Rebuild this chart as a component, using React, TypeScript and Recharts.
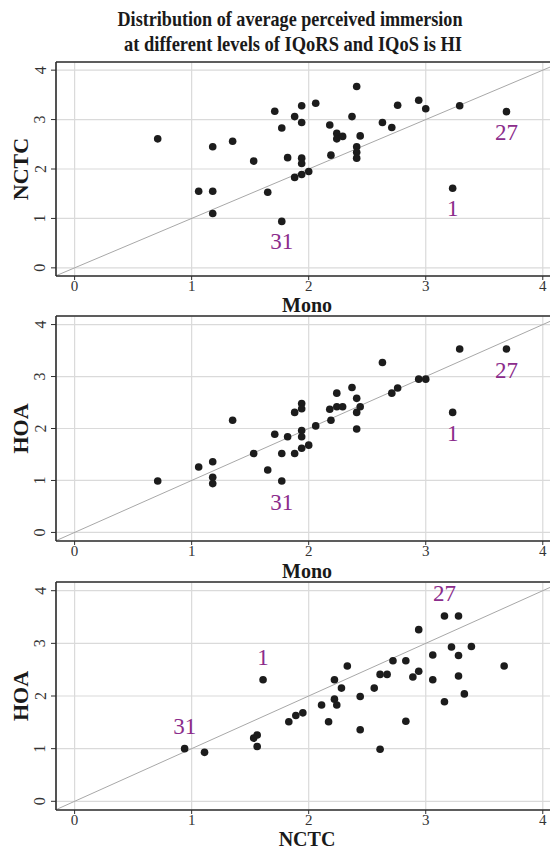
import React from 'react';
import { ScatterChart, Scatter, XAxis, YAxis, CartesianGrid, ReferenceLine, Label } from 'recharts';

// ---- Data ----
const TICKS = [0, 1, 2, 3, 4];

// Panel 1: Mono (x) vs NCTC (y)
const p1Mono = [0.71, 1.06, 1.18, 1.18, 1.18, 1.35, 1.53, 1.65, 1.71, 1.77, 1.77, 1.82, 1.88, 1.88, 1.94, 1.94, 1.94, 1.94, 1.94, 2.0, 2.06, 2.18, 2.19, 2.24, 2.24, 2.29, 2.37, 2.41, 2.41, 2.41, 2.41, 2.44, 2.63, 2.71, 2.76, 2.94, 3.0, 3.23, 3.29, 3.69];
const p1NCTC = [2.61, 1.55, 1.55, 2.45, 1.1, 2.56, 2.16, 1.53, 3.17, 2.83, 0.94, 2.23, 3.06, 1.83, 3.28, 2.94, 2.22, 2.11, 1.89, 1.95, 3.33, 2.89, 2.28, 2.72, 2.61, 2.66, 3.06, 3.67, 2.45, 2.34, 2.22, 2.67, 2.94, 2.84, 3.29, 3.39, 3.22, 1.61, 3.28, 3.16];
const p1LabelIdx = [10, 37, 39];
const p1LabelText = ['31', '1', '27'];

// Panel 2: Mono (x) vs HOA (y)
const p2Mono = [0.71, 1.06, 1.18, 1.18, 1.18, 1.35, 1.53, 1.65, 1.71, 1.77, 1.77, 1.82, 1.88, 1.88, 1.94, 1.94, 1.94, 1.94, 1.94, 2.0, 2.06, 2.18, 2.19, 2.24, 2.24, 2.29, 2.37, 2.41, 2.41, 2.41, 2.44, 2.63, 2.71, 2.76, 2.94, 3.0, 3.23, 3.29, 3.69];
const p2HOA = [0.99, 1.26, 1.36, 1.06, 0.94, 2.16, 1.52, 1.2, 1.89, 1.52, 0.99, 1.84, 2.31, 1.52, 2.48, 2.38, 1.96, 1.84, 1.62, 1.68, 2.05, 2.37, 2.16, 2.68, 2.42, 2.42, 2.79, 2.58, 2.31, 1.99, 2.42, 3.27, 2.68, 2.78, 2.95, 2.95, 2.31, 3.53, 3.53];
const p2LabelIdx = [10, 36, 38];
const p2LabelText = ['31', '1', '27'];

// Panel 3: NCTC (x) vs HOA (y)
const p3NCTC = [0.94, 1.11, 1.53, 1.56, 1.56, 1.61, 1.83, 1.89, 1.95, 2.11, 2.17, 2.22, 2.22, 2.24, 2.28, 2.33, 2.44, 2.44, 2.56, 2.61, 2.61, 2.67, 2.72, 2.83, 2.83, 2.89, 2.94, 2.94, 3.06, 3.06, 3.16, 3.16, 3.22, 3.28, 3.28, 3.28, 3.33, 3.39, 3.67];
const p3HOA = [1.0, 0.93, 1.2, 1.26, 1.04, 2.31, 1.51, 1.63, 1.68, 1.83, 1.51, 2.31, 1.94, 1.83, 2.15, 2.57, 1.99, 1.36, 2.15, 2.41, 0.99, 2.41, 2.67, 2.67, 1.52, 2.36, 2.47, 3.26, 2.78, 2.31, 3.52, 1.89, 2.93, 3.52, 2.77, 2.38, 2.04, 2.94, 2.57];
const p3LabelIdx = [0, 5, 30];
const p3LabelText = ['31', '1', '27'];

const TITLE_LINES = ['Distribution of average perceived immersion', 'at different levels of IQoRS and IQoS is HI'];

// ---- Styling ----
const FONT = '"Liberation Serif", "Times New Roman", serif';
const X_DOMAIN: [number, number] = [-0.159, 4.13];
const Y_DOMAIN: [number, number] = [-0.165, 4.165];
const AXIS = '#2e2e2e';
const PURPLE = '#8b2c8b';
const CHART_W = 550;
const Y_AXIS_W = 48;
const MT = 2;
const XH = 42;

function build(xs: number[], ys: number[], idx: number[], txt: string[]) {
  return xs.map((x, i) => {
    const k = idx.indexOf(i);
    return { x, y: ys[i], tag: k >= 0 ? txt[k] : '' };
  });
}

const makeShape = (dy: number) => (props: any) => {
  const { cx, cy, payload } = props;
  return (
    <g>
      <circle cx={cx} cy={cy} r={3.8} fill="#1c1c1c" />
      {payload && payload.tag ? (
        <text x={cx} y={cy + dy + 8} textAnchor="middle" fontFamily={FONT} fontSize={23} fill={PURPLE}>
          {payload.tag}
        </text>
      ) : null}
    </g>
  );
};

const XTick = (p: any) => (
  <text x={p.x} y={p.y + 8.5} textAnchor="middle" fontFamily={FONT} fontSize={15} fill="#333">
    {p.payload.value}
  </text>
);

const YTick = (p: any) => {
  const bx = 37.5;
  return (
    <text x={bx} y={p.y} transform={`rotate(-90 ${bx} ${p.y})`} textAnchor="middle" fontFamily={FONT} fontSize={16} fill="#333">
      {p.payload.value}
    </text>
  );
};

function Panel(props: { data: any[]; top: number; plotH: number; xLabel: string; yLabel: string; labelDy: number; xLabelDy: number }) {
  const { data, top, plotH, xLabel, yLabel, labelDy, xLabelDy } = props;
  const plotW = CHART_W - Y_AXIS_W;
  return (
    <div style={{ position: 'absolute', left: 0, top: top - 8 - MT }}>
      <ScatterChart width={CHART_W} height={MT + plotH + XH} margin={{ top: MT, right: 0, bottom: 0, left: 0 }}>
        <CartesianGrid stroke="#dadada" strokeWidth={1.2} />
        <XAxis
          type="number"
          dataKey="x"
          domain={X_DOMAIN}
          ticks={TICKS}
          allowDataOverflow
          height={XH}
          tickSize={4}
          tickMargin={2}
          tickLine={{ stroke: AXIS }}
          axisLine={{ stroke: AXIS, strokeWidth: 1.6 }}
          tick={XTick}
          label={
            <Label
              content={() => (
                <text x={Y_AXIS_W + plotW / 2} y={MT + plotH + xLabelDy} textAnchor="middle" fontFamily={FONT} fontWeight="bold" fontSize={20} fill="#1a1a1a">
                  {xLabel}
                </text>
              )}
            />
          }
        />
        <YAxis
          type="number"
          dataKey="y"
          domain={Y_DOMAIN}
          ticks={TICKS}
          allowDataOverflow
          width={Y_AXIS_W}
          tickSize={5}
          tickMargin={2}
          tickLine={{ stroke: AXIS }}
          axisLine={{ stroke: AXIS, strokeWidth: 1.6 }}
          tick={YTick}
          label={
            <Label
              content={() => {
                const cy = MT + plotH / 2;
                return (
                  <text x={20} y={cy} transform={`rotate(-90 20 ${cy})`} textAnchor="middle" fontFamily={FONT} fontWeight="bold" fontSize={22} fill="#1a1a1a">
                    {yLabel}
                  </text>
                );
              }}
            />
          }
        />
        <ReferenceLine
          segment={[{ x: -1, y: -1 }, { x: 5, y: 5 }]}
          ifOverflow="hidden"
          stroke="#a8a8a8"
          strokeWidth={1}
        />
        <ReferenceLine y={Y_DOMAIN[1]} stroke={AXIS} strokeWidth={1.6} />
        <Scatter data={data} isAnimationActive={false} shape={makeShape(labelDy)} />
      </ScatterChart>
    </div>
  );
}

export default function App() {
  const d1 = build(p1Mono, p1NCTC, p1LabelIdx, p1LabelText);
  const d2 = build(p2Mono, p2HOA, p2LabelIdx, p2LabelText);
  const d3 = build(p3NCTC, p3HOA, p3LabelIdx, p3LabelText);
  return (
    <div style={{ position: 'relative', width: 550, height: 842 }}>
      <svg style={{ position: 'absolute', left: -8, top: -8 }} width={558} height={60}>
        <text x={290} y={26} textAnchor="middle" fontFamily={FONT} fontWeight="bold" fontSize={22} textLength={345} lengthAdjust="spacingAndGlyphs" fill="#1a1a1a">
          {TITLE_LINES[0]}
        </text>
        <text x={293} y={51} textAnchor="middle" fontFamily={FONT} fontWeight="bold" fontSize={22} textLength={338} lengthAdjust="spacingAndGlyphs" fill="#1a1a1a">
          {TITLE_LINES[1]}
        </text>
      </svg>
      <Panel data={d1} top={62} plotH={214} xLabel="Mono" yLabel="NCTC" labelDy={20} xLabelDy={36} />
      <Panel data={d2} top={316} plotH={225} xLabel="Mono" yLabel="HOA" labelDy={21} xLabelDy={37} />
      <Panel data={d3} top={582} plotH={228} xLabel="NCTC" yLabel="HOA" labelDy={-23} xLabelDy={35.5} />
    </div>
  );
}
